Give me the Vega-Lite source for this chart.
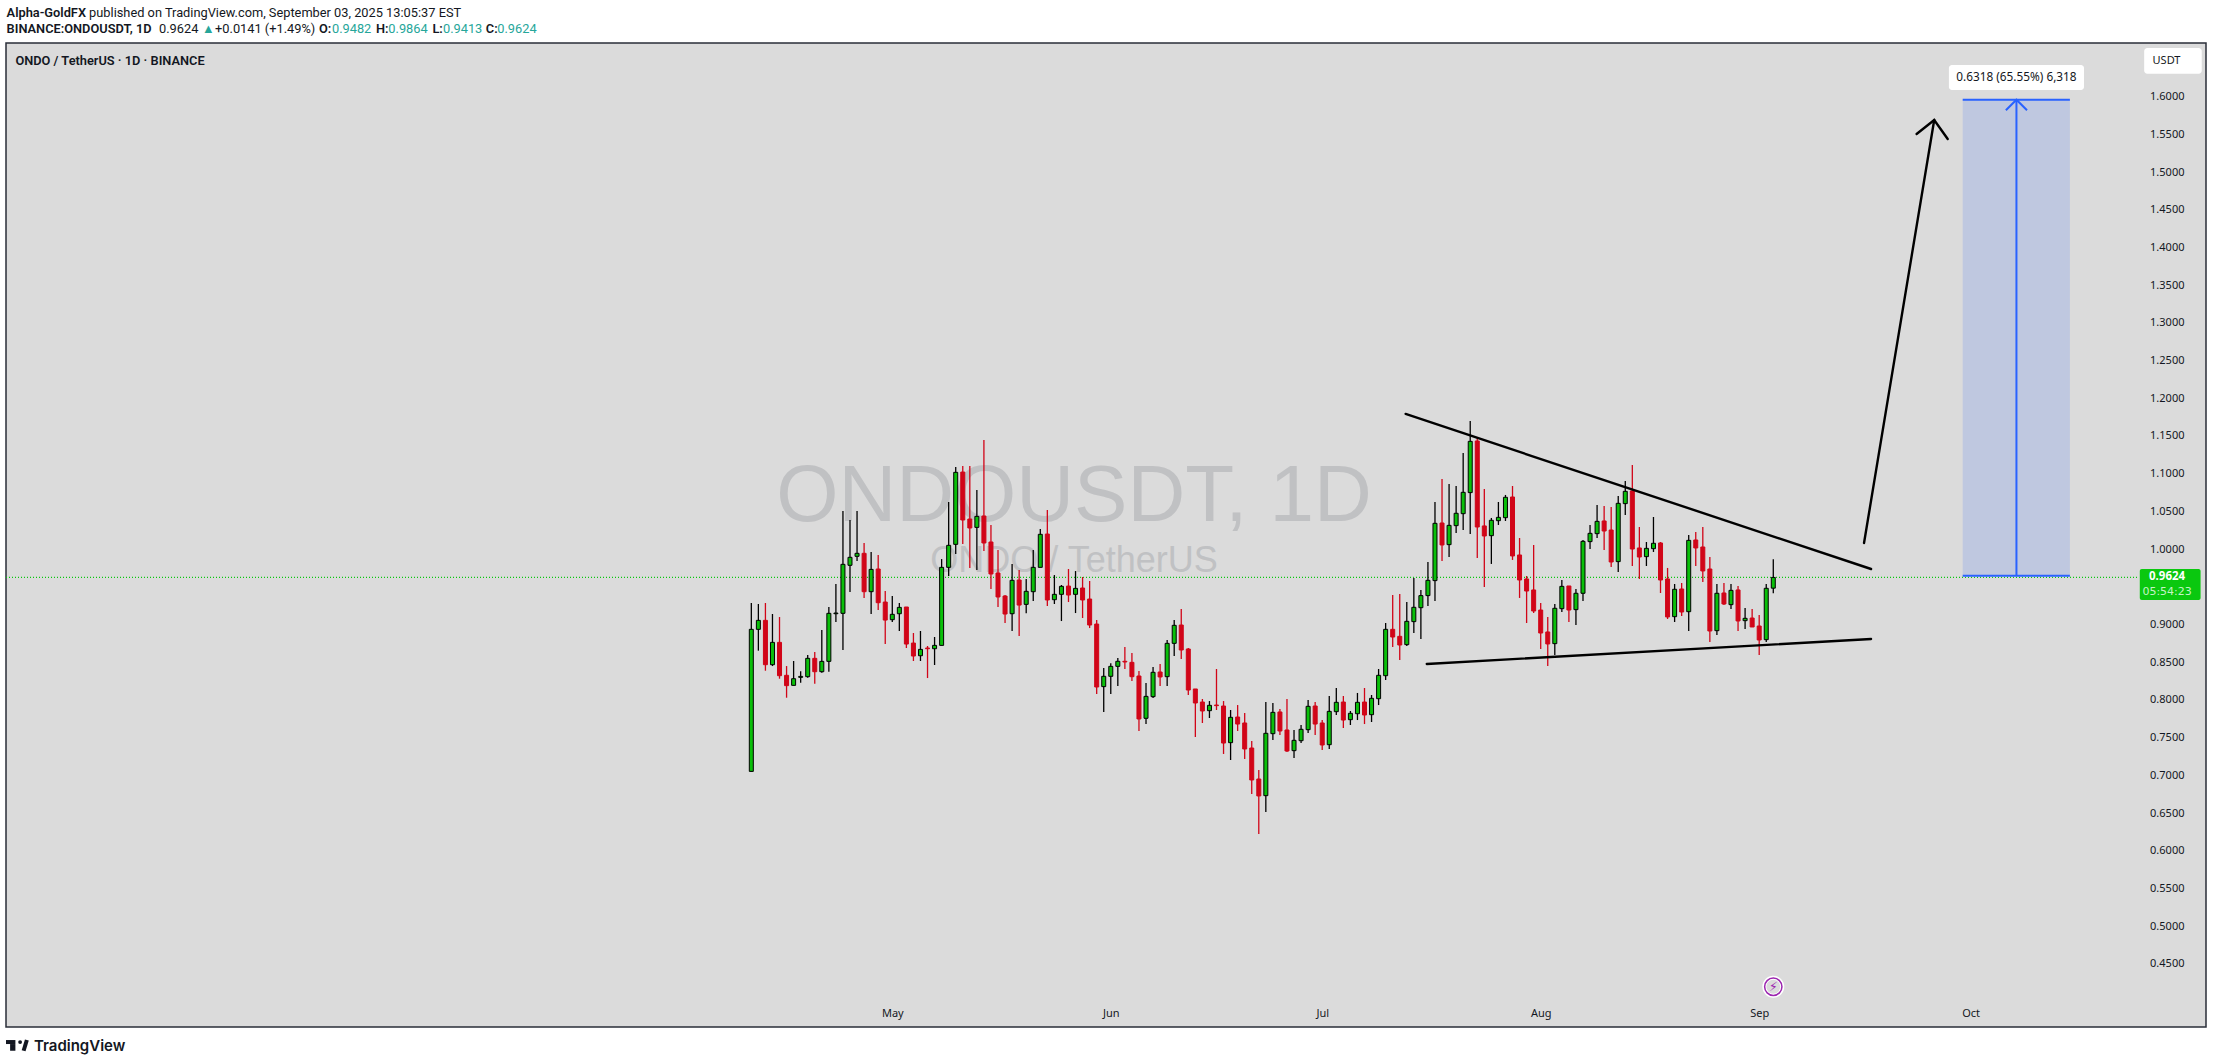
{"$schema":"https://vega.github.io/schema/vega-lite/v6.json","width":2200,"height":984,"autosize":{"type":"none"},"padding":{"left":6,"top":43,"right":7,"bottom":37},"background":"#ffffff","config":{"view":{"fill":"#dbdbdb","stroke":"#2a2e39","strokeWidth":1.5}},
"datasets":{"candles":[
{"t":"2025-04-11","o":0.7052,"h":0.9285,"l":0.7052,"c":0.8936},
{"t":"2025-04-12","o":0.8936,"h":0.9272,"l":0.8653,"c":0.9055},
{"t":"2025-04-13","o":0.9055,"h":0.9285,"l":0.8387,"c":0.8467},
{"t":"2025-04-14","o":0.8467,"h":0.9139,"l":0.8449,"c":0.8763},
{"t":"2025-04-15","o":0.8763,"h":0.9099,"l":0.8281,"c":0.8321},
{"t":"2025-04-16","o":0.8326,"h":0.8449,"l":0.8029,"c":0.8189},
{"t":"2025-04-17","o":0.8193,"h":0.8516,"l":0.8193,"c":0.8281},
{"t":"2025-04-18","o":0.8299,"h":0.8379,"l":0.8228,"c":0.8312},
{"t":"2025-04-19","o":0.8308,"h":0.8595,"l":0.8295,"c":0.8551},
{"t":"2025-04-20","o":0.8551,"h":0.8635,"l":0.8215,"c":0.8374},
{"t":"2025-04-21","o":0.8374,"h":0.8927,"l":0.8361,"c":0.8511},
{"t":"2025-04-22","o":0.8511,"h":0.9232,"l":0.8374,"c":0.9148},
{"t":"2025-04-23","o":0.9143,"h":0.9537,"l":0.9033,"c":0.9152},
{"t":"2025-04-24","o":0.9148,"h":1.0505,"l":0.8662,"c":0.9798},
{"t":"2025-04-25","o":0.9785,"h":1.0386,"l":0.9431,"c":0.9891},
{"t":"2025-04-26","o":0.9904,"h":1.0505,"l":0.9842,"c":0.9944},
{"t":"2025-04-27","o":0.9944,"h":1.0081,"l":0.9351,"c":0.9435},
{"t":"2025-04-28","o":0.9435,"h":0.9961,"l":0.9139,"c":0.9731},
{"t":"2025-04-29","o":0.9736,"h":0.9922,"l":0.9192,"c":0.9289},
{"t":"2025-04-30","o":0.9298,"h":0.9444,"l":0.8741,"c":0.9059},
{"t":"2025-05-01","o":0.9064,"h":0.9378,"l":0.9033,"c":0.9135},
{"t":"2025-05-02","o":0.9143,"h":0.9285,"l":0.8914,"c":0.9227},
{"t":"2025-05-03","o":0.9232,"h":0.9232,"l":0.8688,"c":0.8741},
{"t":"2025-05-04","o":0.8754,"h":0.8887,"l":0.8516,"c":0.8582},
{"t":"2025-05-05","o":0.8586,"h":0.8914,"l":0.8516,"c":0.867},
{"t":"2025-05-06","o":0.8688,"h":0.8715,"l":0.829,"c":0.8679},
{"t":"2025-05-07","o":0.8679,"h":0.8834,"l":0.8463,"c":0.8723},
{"t":"2025-05-08","o":0.8723,"h":0.9868,"l":0.8723,"c":0.9758},
{"t":"2025-05-09","o":0.9758,"h":1.0624,"l":0.9643,"c":1.005},
{"t":"2025-05-10","o":1.0063,"h":1.1089,"l":0.9935,"c":1.1018},
{"t":"2025-05-11","o":1.1022,"h":1.1102,"l":1.0067,"c":1.0386},
{"t":"2025-05-12","o":1.0399,"h":1.1102,"l":0.9749,"c":1.028},
{"t":"2025-05-13","o":1.0288,"h":1.0784,"l":0.9723,"c":1.0434},
{"t":"2025-05-14","o":1.0439,"h":1.1447,"l":0.9975,"c":1.0081},
{"t":"2025-05-15","o":1.0094,"h":1.0319,"l":0.9471,"c":0.967},
{"t":"2025-05-16","o":0.9683,"h":0.9988,"l":0.9232,"c":0.9365},
{"t":"2025-05-17","o":0.9378,"h":0.9391,"l":0.902,"c":0.9139},
{"t":"2025-05-18","o":0.9143,"h":0.9802,"l":0.8914,"c":0.9586},
{"t":"2025-05-19","o":0.959,"h":0.9723,"l":0.8847,"c":0.9258},
{"t":"2025-05-20","o":0.9267,"h":0.9603,"l":0.9148,"c":0.944},
{"t":"2025-05-21","o":0.9435,"h":0.9988,"l":0.9311,"c":0.9758},
{"t":"2025-05-22","o":0.9758,"h":1.0266,"l":0.9758,"c":1.0196},
{"t":"2025-05-23","o":1.02,"h":1.0518,"l":0.9245,"c":0.9325},
{"t":"2025-05-24","o":0.9329,"h":0.9656,"l":0.9272,"c":0.94},
{"t":"2025-05-25","o":0.94,"h":0.9524,"l":0.9046,"c":0.9506},
{"t":"2025-05-26","o":0.951,"h":0.9736,"l":0.9298,"c":0.9391},
{"t":"2025-05-27","o":0.94,"h":0.9709,"l":0.9152,"c":0.9479},
{"t":"2025-05-28","o":0.9484,"h":0.963,"l":0.9086,"c":0.9325},
{"t":"2025-05-29","o":0.9338,"h":0.9577,"l":0.8953,"c":0.8993},
{"t":"2025-05-30","o":0.9006,"h":0.9059,"l":0.8078,"c":0.8171},
{"t":"2025-05-31","o":0.8176,"h":0.8423,"l":0.784,"c":0.8313},
{"t":"2025-06-01","o":0.8313,"h":0.8485,"l":0.8078,"c":0.8445},
{"t":"2025-06-02","o":0.8445,"h":0.8556,"l":0.8184,"c":0.8512},
{"t":"2025-06-03","o":0.8512,"h":0.8702,"l":0.841,"c":0.8503},
{"t":"2025-06-04","o":0.8498,"h":0.8622,"l":0.8251,"c":0.8308},
{"t":"2025-06-05","o":0.8317,"h":0.8383,"l":0.7588,"c":0.7747},
{"t":"2025-06-06","o":0.7756,"h":0.8224,"l":0.768,"c":0.8047},
{"t":"2025-06-07","o":0.8043,"h":0.8436,"l":0.8025,"c":0.8366},
{"t":"2025-06-08","o":0.837,"h":0.8476,"l":0.8184,"c":0.8304},
{"t":"2025-06-09","o":0.8308,"h":0.8794,"l":0.8184,"c":0.875},
{"t":"2025-06-10","o":0.875,"h":0.906,"l":0.8582,"c":0.8989},
{"t":"2025-06-11","o":0.8993,"h":0.9206,"l":0.8543,"c":0.8662},
{"t":"2025-06-12","o":0.8675,"h":0.8688,"l":0.8065,"c":0.8131},
{"t":"2025-06-13","o":0.8145,"h":0.8145,"l":0.7508,"c":0.7959},
{"t":"2025-06-14","o":0.7972,"h":0.8012,"l":0.7694,"c":0.7853},
{"t":"2025-06-15","o":0.7857,"h":0.7985,"l":0.776,"c":0.7928},
{"t":"2025-06-16","o":0.7932,"h":0.841,"l":0.7866,"c":0.7924},
{"t":"2025-06-17","o":0.7919,"h":0.7985,"l":0.7283,"c":0.7428},
{"t":"2025-06-18","o":0.7433,"h":0.7866,"l":0.7203,"c":0.7769},
{"t":"2025-06-19","o":0.7773,"h":0.7932,"l":0.7588,"c":0.768},
{"t":"2025-06-20","o":0.7694,"h":0.7826,"l":0.7216,"c":0.7349},
{"t":"2025-06-21","o":0.7362,"h":0.7455,"l":0.6752,"c":0.6938},
{"t":"2025-06-22","o":0.6951,"h":0.707,"l":0.6222,"c":0.6726},
{"t":"2025-06-23","o":0.673,"h":0.7972,"l":0.6513,"c":0.7557},
{"t":"2025-06-24","o":0.7552,"h":0.7959,"l":0.7468,"c":0.7835},
{"t":"2025-06-25","o":0.784,"h":0.7879,"l":0.7535,"c":0.7588},
{"t":"2025-06-26","o":0.7601,"h":0.8012,"l":0.7309,"c":0.7322},
{"t":"2025-06-27","o":0.7327,"h":0.7601,"l":0.723,"c":0.7464},
{"t":"2025-06-28","o":0.7459,"h":0.7667,"l":0.7428,"c":0.761},
{"t":"2025-06-29","o":0.7605,"h":0.7999,"l":0.7561,"c":0.7915},
{"t":"2025-06-30","o":0.7919,"h":0.7972,"l":0.7535,"c":0.768},
{"t":"2025-07-01","o":0.7694,"h":0.7733,"l":0.7336,"c":0.7402},
{"t":"2025-07-02","o":0.7406,"h":0.8052,"l":0.7349,"c":0.7848},
{"t":"2025-07-03","o":0.7844,"h":0.8158,"l":0.78,"c":0.7968},
{"t":"2025-07-04","o":0.7972,"h":0.8052,"l":0.7627,"c":0.7733},
{"t":"2025-07-05","o":0.7738,"h":0.7853,"l":0.7667,"c":0.7822},
{"t":"2025-07-06","o":0.7817,"h":0.8092,"l":0.7733,"c":0.7968},
{"t":"2025-07-07","o":0.7972,"h":0.8158,"l":0.768,"c":0.78},
{"t":"2025-07-08","o":0.7804,"h":0.8065,"l":0.7707,"c":0.8021},
{"t":"2025-07-09","o":0.8016,"h":0.841,"l":0.7932,"c":0.8326},
{"t":"2025-07-10","o":0.8321,"h":0.902,"l":0.8264,"c":0.8936},
{"t":"2025-07-11","o":0.8936,"h":0.9391,"l":0.8702,"c":0.8834},
{"t":"2025-07-12","o":0.8843,"h":0.9405,"l":0.8529,"c":0.8728},
{"t":"2025-07-13","o":0.8733,"h":0.9299,"l":0.8715,"c":0.9042},
{"t":"2025-07-14","o":0.9038,"h":0.9617,"l":0.8887,"c":0.9228},
{"t":"2025-07-15","o":0.9223,"h":0.9458,"l":0.8808,"c":0.9383},
{"t":"2025-07-16","o":0.9383,"h":0.9829,"l":0.9246,"c":0.9586},
{"t":"2025-07-17","o":0.9582,"h":1.0625,"l":0.9312,"c":1.0342},
{"t":"2025-07-18","o":1.0346,"h":1.093,"l":0.9842,"c":1.0055},
{"t":"2025-07-19","o":1.0059,"h":1.0864,"l":0.9895,"c":1.0315},
{"t":"2025-07-20","o":1.0311,"h":1.0837,"l":1.0214,"c":1.0475},
{"t":"2025-07-21","o":1.047,"h":1.1275,"l":1.0253,"c":1.0753},
{"t":"2025-07-22","o":1.0749,"h":1.1699,"l":1.02,"c":1.1429},
{"t":"2025-07-23","o":1.1434,"h":1.1474,"l":0.9882,"c":1.0293},
{"t":"2025-07-24","o":1.0307,"h":1.0797,"l":0.9498,"c":1.0174},
{"t":"2025-07-25","o":1.0178,"h":1.0413,"l":0.9803,"c":1.0382},
{"t":"2025-07-26","o":1.0377,"h":1.0625,"l":1.032,"c":1.0421},
{"t":"2025-07-27","o":1.0417,"h":1.0718,"l":1.0373,"c":1.0687},
{"t":"2025-07-28","o":1.0691,"h":1.0837,"l":0.9856,"c":0.9909},
{"t":"2025-07-29","o":0.9922,"h":1.0147,"l":0.9352,"c":0.959},
{"t":"2025-07-30","o":0.9604,"h":0.9643,"l":0.902,"c":0.9444},
{"t":"2025-07-31","o":0.9458,"h":1.0055,"l":0.9153,"c":0.9179},
{"t":"2025-08-01","o":0.9192,"h":0.9285,"l":0.8675,"c":0.8887},
{"t":"2025-08-02","o":0.8901,"h":0.91,"l":0.845,"c":0.8742},
{"t":"2025-08-03","o":0.8746,"h":0.9272,"l":0.8596,"c":0.9215},
{"t":"2025-08-04","o":0.921,"h":0.959,"l":0.9166,"c":0.9506},
{"t":"2025-08-05","o":0.9511,"h":0.9511,"l":0.9033,"c":0.9192},
{"t":"2025-08-06","o":0.9197,"h":0.9471,"l":0.8994,"c":0.9414},
{"t":"2025-08-07","o":0.9414,"h":1.0121,"l":0.9312,"c":1.0103},
{"t":"2025-08-08","o":1.0099,"h":1.032,"l":1.0001,"c":1.0209},
{"t":"2025-08-09","o":1.0205,"h":1.0585,"l":1.0147,"c":1.0368},
{"t":"2025-08-10","o":1.0373,"h":1.0572,"l":0.9988,"c":1.024},
{"t":"2025-08-11","o":1.0253,"h":1.0559,"l":0.9763,"c":0.9829},
{"t":"2025-08-12","o":0.9834,"h":1.0704,"l":0.9696,"c":1.0607},
{"t":"2025-08-13","o":1.0603,"h":1.0903,"l":1.0452,"c":1.0766},
{"t":"2025-08-14","o":1.0771,"h":1.1116,"l":0.9776,"c":1.0001},
{"t":"2025-08-15","o":1.0015,"h":1.0293,"l":0.9604,"c":0.9895},
{"t":"2025-08-16","o":0.99,"h":1.0094,"l":0.9776,"c":1.001},
{"t":"2025-08-17","o":1.0006,"h":1.0426,"l":0.9962,"c":1.0077},
{"t":"2025-08-18","o":1.0081,"h":1.0094,"l":0.9418,"c":0.959},
{"t":"2025-08-19","o":0.9604,"h":0.975,"l":0.9073,"c":0.91},
{"t":"2025-08-20","o":0.9104,"h":0.9537,"l":0.9033,"c":0.9467},
{"t":"2025-08-21","o":0.9471,"h":0.9551,"l":0.9113,"c":0.9166},
{"t":"2025-08-22","o":0.917,"h":1.0187,"l":0.8914,"c":1.0116},
{"t":"2025-08-23","o":1.0121,"h":1.0227,"l":0.9776,"c":1.0015},
{"t":"2025-08-24","o":1.0028,"h":1.0293,"l":0.9564,"c":0.971},
{"t":"2025-08-25","o":0.9736,"h":0.9895,"l":0.8768,"c":0.8914},
{"t":"2025-08-26","o":0.8918,"h":0.9537,"l":0.8861,"c":0.9414},
{"t":"2025-08-27","o":0.9418,"h":0.9551,"l":0.9259,"c":0.9272},
{"t":"2025-08-28","o":0.9263,"h":0.9537,"l":0.9206,"c":0.9453},
{"t":"2025-08-29","o":0.9458,"h":0.9511,"l":0.8914,"c":0.9047},
{"t":"2025-08-30","o":0.9051,"h":0.9219,"l":0.894,"c":0.9082},
{"t":"2025-08-31","o":0.9086,"h":0.9206,"l":0.8967,"c":0.8967},
{"t":"2025-09-01","o":0.898,"h":0.9126,"l":0.8596,"c":0.8795},
{"t":"2025-09-02","o":0.8799,"h":0.9537,"l":0.8768,"c":0.948},
{"t":"2025-09-03","o":0.9482,"h":0.9864,"l":0.9413,"c":0.9624}
]},
"encoding":{
"x":{"field":"t","type":"temporal","title":null,"scale":{"type":"utc","domain":[1735192800000,1762162153400],"nice":false,"padding":0},"axis":{"values":[1746057600000,1748736000000,1751328000000,1754006400000,1756684800000,1759276800000],"labelExpr":"utcFormat(datum.value,'%b')","grid":false,"domain":false,"ticks":false,"tickSize":0,"labelPadding":-14,"labelBaseline":"middle","labelFont":"Noto Sans","labelFontSize":11,"labelColor":"#131722","labelOverlap":false,"labelFlush":false}},
"y":{"field":"p","type":"quantitative","title":null,"scale":{"domain":[0.3662,1.6712],"nice":false,"zero":false},"axis":{"orient":"right","values":[0.45,0.5,0.55,0.6,0.65,0.7,0.75,0.8,0.85,0.9,1.0,1.05,1.1,1.15,1.2,1.25,1.3,1.35,1.4,1.45,1.5,1.55,1.6],"format":".4f","grid":false,"domain":false,"ticks":false,"tickSize":0,"labelPadding":-22,"labelAlign":"right","labelBaseline":"middle","labelFont":"Noto Sans","labelFontSize":11,"labelColor":"#131722","labelOverlap":false,"labelFlush":false}}
},
"layer":[
{"data":{"values":[{"t":"2025-05-26T19:00:00Z","p":1.0691,"s":"ONDOUSDT, 1D"}]},"mark":{"type":"text","font":"Liberation Sans","fontSize":80,"color":"#c0c1c3","align":"center","baseline":"middle"},"encoding":{"text":{"field":"s"}}},
{"data":{"values":[{"t":"2025-05-26T19:00:00Z","p":0.9842,"s":"ONDO / TetherUS"}]},"mark":{"type":"text","font":"Liberation Sans","fontSize":36,"color":"#c0c1c3","align":"center","baseline":"middle"},"encoding":{"text":{"field":"s"}}},
{"data":{"values":[{"t":"2024-12-26T06:00:00Z","t2":"2025-10-24T19:00:00Z","p":0.9624}]},"mark":{"type":"rule","color":"#0ac80f","strokeWidth":1.2,"strokeDash":[1,2]},"encoding":{"x2":{"field":"t2"}}},
{"data":{"values":[{"t":"2025-09-29T21:00:00Z","t2":"2025-10-15T02:00:00Z","p":1.596,"p2":0.9646}]},"mark":{"type":"rect","color":"#bfc8e0"},"encoding":{"x2":{"field":"t2"},"y2":{"field":"p2"}}},
{"data":{"name":"candles"},"mark":{"type":"rule","strokeWidth":1.3},"encoding":{"y":{"field":"h","type":"quantitative","title":null},"y2":{"field":"l"},"color":{"condition":{"test":"datum.c>=datum.o","value":"#000000"},"value":"#d10518"}}},
{"data":{"name":"candles"},"mark":{"type":"bar","size":4,"strokeWidth":1},"encoding":{"y":{"field":"o","type":"quantitative","title":null},"y2":{"field":"c"},"fill":{"condition":{"test":"datum.c>=datum.o","value":"#0abf0a"},"value":"#d10518"},"stroke":{"condition":{"test":"datum.c>=datum.o","value":"#000000"},"value":"#d10518"}}},
{"data":{"values":[
{"k":"a","t":"2025-07-12T20:00:00Z","p":1.1792},{"k":"a","t":"2025-09-16T21:00:00Z","p":0.9736},
{"k":"b","t":"2025-07-15T20:00:00Z","p":0.8476},{"k":"b","t":"2025-09-16T21:00:00Z","p":0.8808},
{"k":"c","t":"2025-09-15T21:00:00Z","p":1.0081},{"k":"c","t":"2025-09-25T20:00:00Z","p":1.5691},
{"k":"d","t":"2025-09-23T08:00:00Z","p":1.5505},{"k":"d","t":"2025-09-25T20:00:00Z","p":1.5691},{"k":"d","t":"2025-09-27T18:00:00Z","p":1.5439}
]},"mark":{"type":"line","color":"#000000","strokeWidth":2.4,"strokeCap":"round"},"encoding":{"detail":{"field":"k"}}},
{"data":{"values":[
{"k":"a","t":"2025-09-29T21:00:00Z","p":1.596},{"k":"a","t":"2025-10-15T02:00:00Z","p":1.596},
{"k":"b","t":"2025-09-29T21:00:00Z","p":0.9646},{"k":"b","t":"2025-10-15T02:00:00Z","p":0.9646},
{"k":"c","t":"2025-10-07T12:00:00Z","p":0.9646},{"k":"c","t":"2025-10-07T12:00:00Z","p":1.596},
{"k":"d","t":"2025-10-06T00:00:00Z","p":1.582},{"k":"d","t":"2025-10-07T12:00:00Z","p":1.596},{"k":"d","t":"2025-10-09T00:00:00Z","p":1.582}
]},"mark":{"type":"line","color":"#2962ff","strokeWidth":2},"encoding":{"detail":{"field":"k"}}},
{"data":{"values":[{"t":"2025-09-27T22:00:00Z","t2":"2025-10-17T02:00:00Z","p":1.642,"p2":1.6089},{"t":"2025-10-25T15:00:00Z","t2":"2025-11-02T19:00:00Z","p":1.6646,"p2":1.6305}]},"mark":{"type":"rect","color":"#ffffff","cornerRadius":3},"encoding":{"x2":{"field":"t2"},"y2":{"field":"p2"}}},
{"data":{"values":[{"t":"2025-10-25T00:00:00Z","t2":"2025-11-02T15:00:00Z","p":0.9736,"p2":0.9325}]},"mark":{"type":"rect","color":"#0ac80f","cornerRadius":2},"encoding":{"x2":{"field":"t2"},"y2":{"field":"p2"}}},
{"data":{"values":[{"t":"2025-10-07T12:00:00Z","p":1.6255,"s":"0.6318 (65.55%) 6,318"}]},"mark":{"type":"text","font":"Noto Sans","fontSize":11.8,"color":"#131722","align":"center","baseline":"middle"},"encoding":{"text":{"field":"s"}}},
{"data":{"values":[{"t":"2025-10-28T19:00:00Z","p":1.6475,"s":"USDT"}]},"mark":{"type":"text","font":"Noto Sans","fontSize":11,"color":"#131722","align":"center","baseline":"middle"},"encoding":{"text":{"field":"s"}}},
{"data":{"values":[{"t":"2025-10-28T21:00:00Z","p":0.9628,"s":"0.9624"}]},"mark":{"type":"text","font":"Noto Sans","fontSize":11.5,"fontWeight":"bold","color":"#ffffff","align":"center","baseline":"middle"},"encoding":{"text":{"field":"s"}}},
{"data":{"values":[{"t":"2025-10-28T21:00:00Z","p":0.9436,"s":"05:54:23"}]},"mark":{"type":"text","font":"DejaVu Sans","fontSize":11,"color":"#c4f3c6","align":"center","baseline":"middle"},"encoding":{"text":{"field":"s"}}},
{"data":{"values":[{"t":"2025-09-03","p":0.4196}]},"mark":{"type":"point","shape":"circle","size":320,"filled":false,"stroke":"#ffffff","strokeWidth":4,"opacity":1}},
{"data":{"values":[{"t":"2025-09-03","p":0.4196}]},"mark":{"type":"point","shape":"circle","size":300,"filled":false,"stroke":"#9c27b0","strokeWidth":1.5,"opacity":1}},
{"data":{"values":[{"t":"2025-09-03","p":0.4196,"s":"⚡"}]},"mark":{"type":"text","font":"DejaVu Sans","fontSize":13,"color":"#9c27b0","align":"center","baseline":"middle"},"encoding":{"text":{"field":"s"}}},
{"data":{"values":[
{"t":"2025-01-07T01:00:00Z","p":1.7114,"s":"published on TradingView.com, September 03, 2025 13:05:37 EST"},
{"t":"2025-01-16T23:00:00Z","p":1.6894,"s":"0.9624"},
{"t":"2025-01-24T22:00:00Z","p":1.6894,"s":"+0.0141 (+1.49%)"}
]},"mark":{"type":"text","font":"Roboto","fontSize":12.8,"color":"#131722","align":"left","baseline":"middle"},"encoding":{"text":{"field":"s"}}},
{"data":{"values":[
{"t":"2024-12-26T08:00:00Z","p":1.7114,"s":"Alpha-GoldFX"},
{"t":"2024-12-26T08:00:00Z","p":1.6894,"s":"BINANCE:ONDOUSDT, 1D"},
{"t":"2025-02-08T16:00:00Z","p":1.6894,"s":"O:"},
{"t":"2025-02-16T18:00:00Z","p":1.6894,"s":"H:"},
{"t":"2025-02-24T18:00:00Z","p":1.6894,"s":"L:"},
{"t":"2025-03-04T08:00:00Z","p":1.6894,"s":"C:"},
{"t":"2024-12-27T14:00:00Z","p":1.6477,"s":"ONDO / TetherUS · 1D · BINANCE"}
]},"mark":{"type":"text","font":"Roboto","fontSize":12.8,"fontWeight":600,"color":"#131722","align":"left","baseline":"middle"},"encoding":{"text":{"field":"s"}}},
{"data":{"values":[
{"t":"2025-01-23T01:00:00Z","p":1.6894,"s":"▲"},
{"t":"2025-02-10T12:00:00Z","p":1.6894,"s":"0.9482"},
{"t":"2025-02-18T12:00:00Z","p":1.6894,"s":"0.9864"},
{"t":"2025-02-26T06:00:00Z","p":1.6894,"s":"0.9413"},
{"t":"2025-03-05T23:00:00Z","p":1.6894,"s":"0.9624"}
]},"mark":{"type":"text","font":"Roboto","fontSize":12.8,"color":"#26a69a","align":"left","baseline":"middle"},"encoding":{"text":{"field":"s"}}},
{"data":{"values":[{"t":"2024-12-30T05:00:00Z","p":0.3414,"s":"TradingView"}]},"mark":{"type":"text","font":"Inter","fontSize":15,"fontWeight":600,"color":"#131722","align":"left","baseline":"middle"},"encoding":{"text":{"field":"s"}}},
{"data":{"values":[{"t":"2024-12-26T06:00:00Z","t2":"2024-12-27T14:00:00Z","p":0.3489,"p2":0.3436},{"t":"2024-12-26T20:00:00Z","t2":"2024-12-27T14:00:00Z","p":0.3436,"p2":0.3347}]},"mark":{"type":"rect","color":"#131722"},"encoding":{"x2":{"field":"t2"},"y2":{"field":"p2"}}},
{"data":{"values":[{"t":"2024-12-28T06:00:00Z","p":0.3462}]},"mark":{"type":"point","shape":"circle","size":15,"filled":true,"color":"#131722","opacity":1}},
{"data":{"values":[{"t":"2024-12-28T18:00:00Z","p":0.3347},{"t":"2024-12-29T05:00:00Z","p":0.3489}]},"mark":{"type":"line","color":"#131722","strokeWidth":4}}
]}
